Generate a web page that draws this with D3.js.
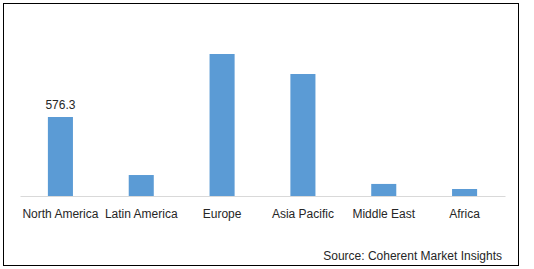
<!DOCTYPE html>
<html>
<head>
<meta charset="utf-8">
<script src="https://cdn.jsdelivr.net/npm/d3@7"></script>
<style>
  body { margin: 0; background: #fff; }
  text { font-family: "Liberation Sans", Arial, sans-serif; }
</style>
</head>
<body>
<svg id="chart" width="534" height="269"></svg>
<script>
// data
var regions = ["North America", "Latin America", "Europe", "Asia Pacific", "Middle East", "Africa"];
var values = [576.3, 153, 1036, 890, 88, 51];
var labelled = ["North America"];   // only this bar carries a value label
var sourceText = "Source: Coherent Market Insights";

var svg = d3.select("#chart"),
    width = 534,
    height = 269;

var margin = {top: 54, right: 29, bottom: 73, left: 20};
var plotW = width - margin.left - margin.right,
    plotH = 196 - margin.top;

// outer frame
svg.append("rect")
    .attr("x", 3.5)
    .attr("y", 3.5)
    .attr("width", 515)
    .attr("height", 262)
    .attr("fill", "#fff")
    .attr("stroke", "#000")
    .attr("stroke-width", 1);

var g = svg.append("g")
    .attr("transform", "translate(" + margin.left + "," + margin.top + ")");

var x = d3.scaleBand()
    .domain(regions)
    .range([0, plotW])
    .paddingInner(0.69)
    .paddingOuter(0.345);

var y = d3.scaleLinear()
    .domain([0, d3.max(values)])
    .range([plotH, 0]);

var rows = regions.map(function(r, i) { return {region: r, value: values[i]}; });

// bars
g.selectAll(".bar").data(rows)
  .enter()
  .append("rect")
    .attr("class", "bar")
    .attr("x", function(d) { return x(d.region); })
    .attr("y", function(d) { return y(d.value); })
    .attr("width", x.bandwidth())
    .attr("height", function(d) { return plotH - y(d.value); })
    .attr("fill", "#5B9BD5");

// category axis
var xAxis = g.append("g")
    .attr("transform", "translate(0," + plotH + ")")
    .call(d3.axisBottom(x).tickSize(0).tickPadding(13));
xAxis.select(".domain")
    .attr("stroke", "#d9d9d9")
    .attr("stroke-width", 1);
xAxis.selectAll("text")
    .attr("font-size", "12px")
    .attr("fill", "#262626")
    .style("font-family", "'Liberation Sans', Arial, sans-serif");

// value label
g.selectAll(".vlabel").data(rows.filter(function(d) { return labelled.indexOf(d.region) >= 0; }))
  .enter()
  .append("text")
    .attr("class", "vlabel")
    .attr("x", function(d) { return x(d.region) + x.bandwidth() / 2; })
    .attr("y", function(d) { return y(d.value) - 8; })
    .attr("text-anchor", "middle")
    .attr("font-size", "12px")
    .attr("fill", "#262626")
    .text(function(d) { return d.value.toFixed(1); });

// source note
svg.append("text")
    .attr("x", 502)
    .attr("y", 260)
    .attr("text-anchor", "end")
    .attr("font-size", "12px")
    .attr("fill", "#262626")
    .text(sourceText);
</script>
</body>
</html>
